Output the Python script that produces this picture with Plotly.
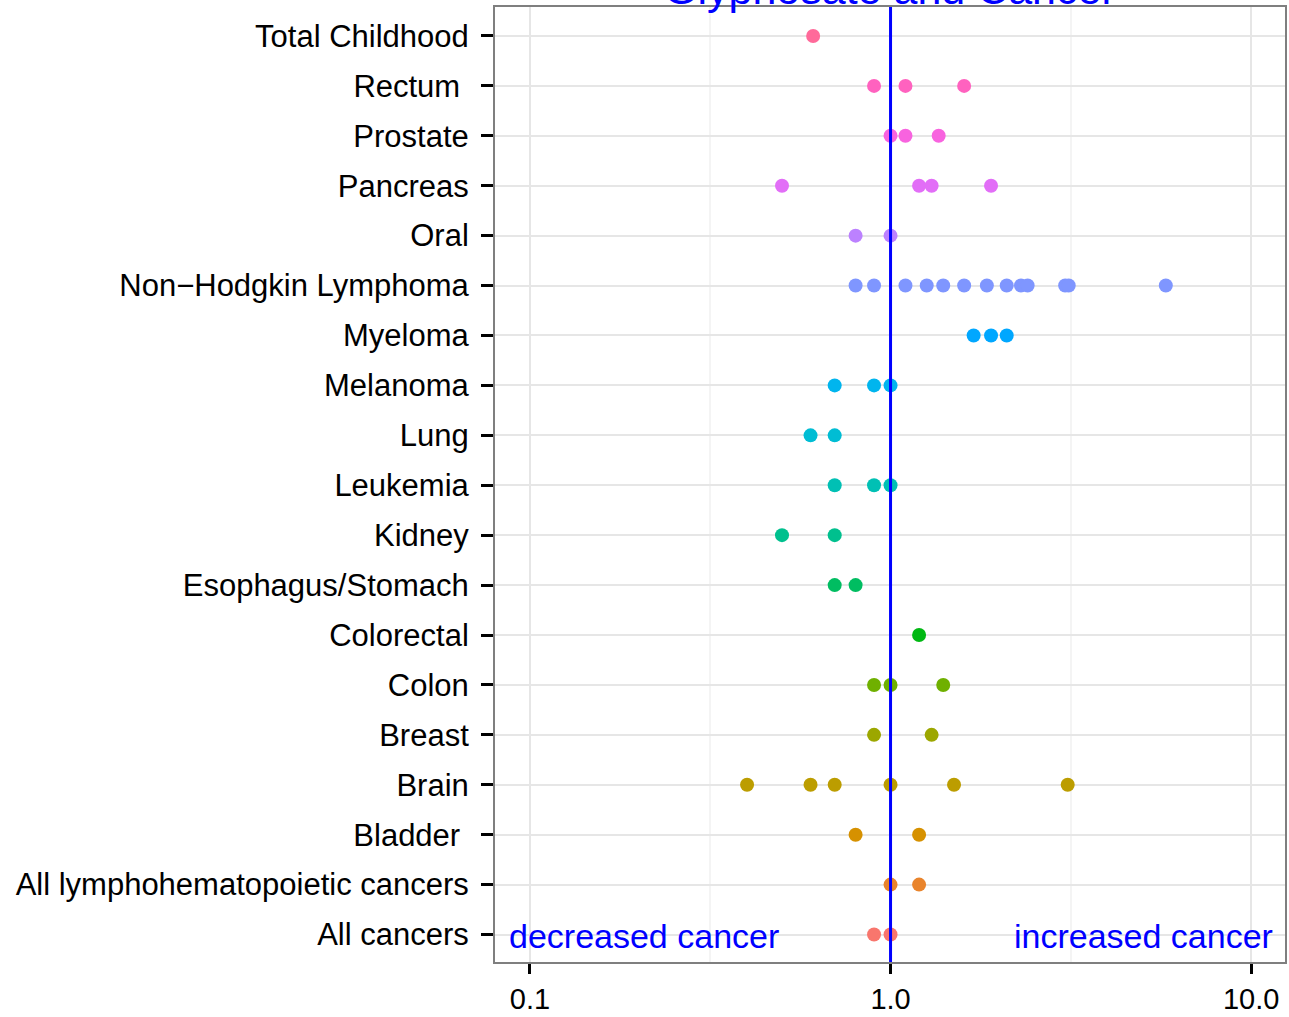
import math
import plotly.graph_objects as go

# ---- data (relative risk estimates per cancer type) ----
categories = [
    "All cancers", "All lymphohematopoietic cancers", "Bladder\u00a0", "Brain",
    "Breast", "Colon", "Colorectal", "Esophagus/Stomach", "Kidney", "Leukemia",
    "Lung", "Melanoma", "Myeloma", "Non\u2212Hodgkin Lymphoma", "Oral",
    "Pancreas", "Prostate", "Rectum\u00a0", "Total Childhood",
]
all_cancers = [0.9, 1.0]
all_lympho = [1.0, 1.2]
bladder = [0.8, 1.2]
brain = [0.4, 0.6, 0.7, 1.0, 1.5, 3.1]
breast = [0.9, 1.3]
colon = [0.9, 1.0, 1.4]
colorectal = [1.2]
esophagus_stomach = [0.7, 0.8]
kidney = [0.5, 0.7]
leukemia = [0.7, 0.9, 1.0]
lung = [0.6, 0.7]
melanoma = [0.7, 0.9, 1.0]
myeloma = [1.7, 1.9, 2.1]
nhl = [0.8, 0.9, 1.1, 1.26, 1.4, 1.6, 1.85, 2.1, 2.3, 2.4, 3.05, 3.12, 5.8]
oral = [0.8, 1.0]
pancreas = [0.5, 1.2, 1.3, 1.9]
prostate = [1.0, 1.1, 1.36]
rectum = [0.9, 1.1, 1.6]
total_childhood = [0.61]

series = [all_cancers, all_lympho, bladder, brain, breast, colon, colorectal,
          esophagus_stomach, kidney, leukemia, lung, melanoma, myeloma, nhl,
          oral, pancreas, prostate, rectum, total_childhood]

x_ticks = [0.1, 1.0, 10.0]
x_tick_labels = ["0.1", "1.0", "10.0"]


# ---- ggplot-like hue palette (hcl, c=100, l=65) ----
def hcl_to_hex(h, c=100.0, l=65.0):
    hr = math.radians(h)
    U = c * math.cos(hr)
    V = c * math.sin(hr)
    Xn, Yn, Zn = 95.047, 100.0, 108.883
    un = 4 * Xn / (Xn + 15 * Yn + 3 * Zn)
    vn = 9 * Yn / (Xn + 15 * Yn + 3 * Zn)
    Y = Yn * (((l + 16) / 116) ** 3 if l > 8 else l / 903.3)
    u = U / (13 * l) + un
    v = V / (13 * l) + vn
    X = 9.0 * Y * u / (4 * v)
    Z = -X / 3 - 5 * Y + 3 * Y / v
    X, Y, Z = X / 100, Y / 100, Z / 100
    r = 3.240479 * X - 1.537150 * Y - 0.498535 * Z
    g = -0.969256 * X + 1.875992 * Y + 0.041556 * Z
    b = 0.055648 * X - 0.204043 * Y + 1.057311 * Z

    def gam(t):
        t = 12.92 * t if t <= 0.0031308 else 1.055 * t ** (1 / 2.4) - 0.055
        return max(0, min(255, round(255 * t)))

    return "#%02x%02x%02x" % (gam(r), gam(g), gam(b))


n = len(categories)
colors = [hcl_to_hex(15 + 360 * i / n) for i in range(n)]

fig = go.Figure()
for cat, vals, col in zip(categories, series, colors):
    fig.add_trace(go.Scatter(
        x=vals, y=[cat] * len(vals), mode="markers",
        marker=dict(color=col, size=14, line=dict(width=0)),
        showlegend=False, hoverinfo="x+y",
    ))

fig.add_shape(type="line", xref="x", yref="paper", x0=1, x1=1, y0=0, y1=1,
              line=dict(color="#0000ff", width=3), layer="above")

font_family = "Liberation Sans, Arial, Helvetica, sans-serif"

fig.add_annotation(text="decreased cancer", xref="paper", yref="y",
                   x=0, y="All cancers", xanchor="left", yanchor="middle",
                   xshift=12, yshift=-1, showarrow=False,
                   font=dict(color="#0000ff", size=34, family=font_family))
fig.add_annotation(text="increased cancer", xref="paper", yref="y",
                   x=1, y="All cancers", xanchor="right", yanchor="middle",
                   xshift=-10, yshift=-1, showarrow=False,
                   font=dict(color="#0000ff", size=34, family=font_family))
fig.add_annotation(text="Glyphosate and Cancer", xref="paper", yref="paper",
                   x=0.5, y=1, xanchor="center", yanchor="bottom",
                   yshift=-8, showarrow=False,
                   font=dict(color="#0000ff", size=43, family=font_family))

fig.update_layout(
    width=1289, height=1017,
    margin=dict(l=495, r=2, t=7, b=55),
    paper_bgcolor="white", plot_bgcolor="white",
    font=dict(family=font_family, size=31, color="black"),
)
fig.update_xaxes(
    type="log", range=[-1.097, 1.094],
    tickvals=x_ticks, ticktext=x_tick_labels,
    ticks="outside", ticklen=10, tickwidth=3, tickcolor="black",
    showgrid=True, gridcolor="#e6e6e6", gridwidth=2,
    minor=dict(tickvals=[10 ** -0.5, 10 ** 0.5], showgrid=True,
               gridcolor="#f4f4f4", gridwidth=2, ticks=""),
    showline=True, linecolor="#7f7f7f", linewidth=2, mirror=True,
    zeroline=False, tickfont=dict(size=29),
)
fig.update_yaxes(
    type="category", categoryorder="array", categoryarray=categories,
    range=[-0.55, n - 1 + 0.58],
    ticks="outside", ticklen=12, tickwidth=3, tickcolor="black",
    ticklabelstandoff=6,
    showgrid=True, gridcolor="#e6e6e6", gridwidth=2,
    showline=True, linecolor="#7f7f7f", linewidth=2, mirror=True,
    zeroline=False, tickfont=dict(size=31),
)

fig.write_html("out.html", config={"displayModeBar": False},
               post_script="document.body.style.margin='0';")
